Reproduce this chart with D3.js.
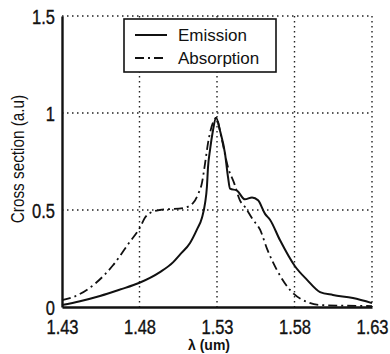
<!DOCTYPE html>
<html>
<head>
<meta charset="utf-8">
<script src="https://cdn.jsdelivr.net/npm/d3@7"></script>
<style>
  html, body { margin: 0; padding: 0; background: #fff; }
  svg { display: block; }
  text { font-family: "Liberation Sans", Arial, Helvetica, sans-serif; fill: #111; }
</style>
</head>
<body>
<svg id="chart" width="390" height="354"></svg>
<script>
// Wavelength (um) and cross section (a.u.) samples for each spectrum
const emissionLambda = [1.43, 1.4416, 1.4545, 1.4674, 1.48, 1.4932, 1.5016, 1.5061, 1.5126, 1.5171, 1.5203, 1.5223, 1.5235, 1.5242, 1.5255, 1.5274, 1.5294, 1.5319, 1.5352, 1.5371, 1.5384, 1.5429, 1.548, 1.5526, 1.5565, 1.561, 1.5642, 1.5706, 1.5803, 1.5881, 1.5965, 1.6048, 1.6177, 1.63];
const emissionValue  = [0.01, 0.03, 0.057, 0.09, 0.125, 0.18, 0.23, 0.27, 0.33, 0.40, 0.46, 0.535, 0.62, 0.72, 0.81, 0.91, 0.975, 0.91, 0.79, 0.67, 0.61, 0.60, 0.555, 0.565, 0.55, 0.48, 0.45, 0.345, 0.21, 0.14, 0.077, 0.062, 0.046, 0.02];

const absorptionLambda = [1.43, 1.4384, 1.4513, 1.4629, 1.4732, 1.4803, 1.4835, 1.4868, 1.4932, 1.5081, 1.5145, 1.5177, 1.5203, 1.5223, 1.5242, 1.5274, 1.5294, 1.5332, 1.5371, 1.541, 1.5448, 1.5481, 1.5532, 1.5577, 1.5623, 1.5687, 1.5771, 1.5881, 1.5965, 1.63];
const absorptionValue  = [0.035, 0.055, 0.12, 0.215, 0.33, 0.41, 0.46, 0.485, 0.50, 0.51, 0.535, 0.58, 0.64, 0.74, 0.845, 0.95, 0.975, 0.86, 0.72, 0.64, 0.55, 0.515, 0.45, 0.40, 0.30, 0.19, 0.088, 0.026, 0.01, 0.005];

const xTicks = [1.43, 1.48, 1.53, 1.58, 1.63];
const xTickLabels = ["1.43", "1.48", "1.53", "1.58", "1.63"];
const yTicks = [0, 0.5, 1, 1.5];
const yTickLabels = ["0", "0.5", "1", "1.5"];

const seriesNames = ["Emission", "Absorption"];

const svg = d3.select("#chart");
const plot = { left: 62, right: 372, top: 16, bottom: 307 };

const x = d3.scaleLinear().domain([1.43, 1.63]).range([plot.left, plot.right]);
const y = d3.scaleLinear().domain([0, 1.5]).range([plot.bottom, plot.top]);

const dotted = "1.5,3.5";

// Dotted grid, including the top and right frame edges
const grid = svg.append("g");
grid.selectAll("line.gx").data(xTicks.slice(1)).join("line")
  .attr("x1", d => x(d)).attr("x2", d => x(d))
  .attr("y1", y(1.5)).attr("y2", y(0))
  .attr("stroke", "#222").attr("stroke-width", 1.4).attr("stroke-dasharray", dotted);
grid.selectAll("line.gy").data(yTicks.slice(1)).join("line")
  .attr("x1", x(1.43)).attr("x2", x(1.63))
  .attr("y1", d => y(d)).attr("y2", d => y(d))
  .attr("stroke", "#222").attr("stroke-width", 1.4).attr("stroke-dasharray", dotted);

// Axes
const xAxis = d3.axisBottom(x).tickValues(xTicks).tickFormat((d, i) => xTickLabels[i]).tickSize(0).tickPadding(0);
const yAxis = d3.axisLeft(y).tickValues(yTicks).tickFormat((d, i) => yTickLabels[i]).tickSize(0).tickPadding(0);

const gx = svg.append("g").attr("transform", `translate(0,${plot.bottom})`).call(xAxis);
const gy = svg.append("g").attr("transform", `translate(${plot.left},0)`).call(yAxis);

[gx, gy].forEach(g => {
  g.select(".domain").attr("stroke", "#111").attr("stroke-width", 2.4);
  g.selectAll("text").attr("font-size", 16.5).attr("fill", "#111")
    .attr("stroke", "#111").attr("stroke-width", 0.3)
    .style("font-family", "'Liberation Sans', Arial, sans-serif");
});
gx.selectAll(".tick text").attr("y", 0).attr("dy", 0)
  .attr("transform", "translate(0,27) scale(1,1.18)");
gy.selectAll(".tick text").attr("x", 0).attr("dy", 0)
  .attr("transform", "translate(-7,7) scale(1,1.18)");

// Spectra
const line = d3.line().x(d => x(d[0])).y(d => y(d[1])).curve(d3.curveMonotoneX);
const emission = emissionLambda.map((l, i) => [l, emissionValue[i]]);
const absorption = absorptionLambda.map((l, i) => [l, absorptionValue[i]]);

svg.append("path").datum(absorption).attr("d", line)
  .attr("fill", "none").attr("stroke", "#111").attr("stroke-width", 1.8)
  .attr("stroke-dasharray", "9,4,2,4");
svg.append("path").datum(emission).attr("d", line)
  .attr("fill", "none").attr("stroke", "#111").attr("stroke-width", 2);

// Legend
const legend = svg.append("g");
legend.append("rect").attr("x", 124).attr("y", 19).attr("width", 152).attr("height", 53)
  .attr("fill", "#fff").attr("stroke", "#111").attr("stroke-width", 1.6);
const dashes = [null, "9,4,2,4"];
seriesNames.forEach((name, i) => {
  const ly = 35 + i * 23;
  legend.append("line").attr("x1", 135).attr("x2", 167).attr("y1", ly).attr("y2", ly)
    .attr("stroke", "#111").attr("stroke-width", 2)
    .attr("stroke-dasharray", dashes[i]);
  legend.append("text").attr("x", 178).attr("y", ly + 6).attr("font-size", 17).text(name);
});

// Axis titles
svg.append("text")
  .attr("transform", "translate(24,159) rotate(-90) scale(0.9,1.1)")
  .attr("text-anchor", "middle").attr("font-size", 17)
  .text("Cross section (a.u)");
svg.append("text").attr("x", 209).attr("y", 350)
  .attr("text-anchor", "middle").attr("font-size", 14).attr("font-weight", "bold")
  .text("λ (um)");
</script>
</body>
</html>
